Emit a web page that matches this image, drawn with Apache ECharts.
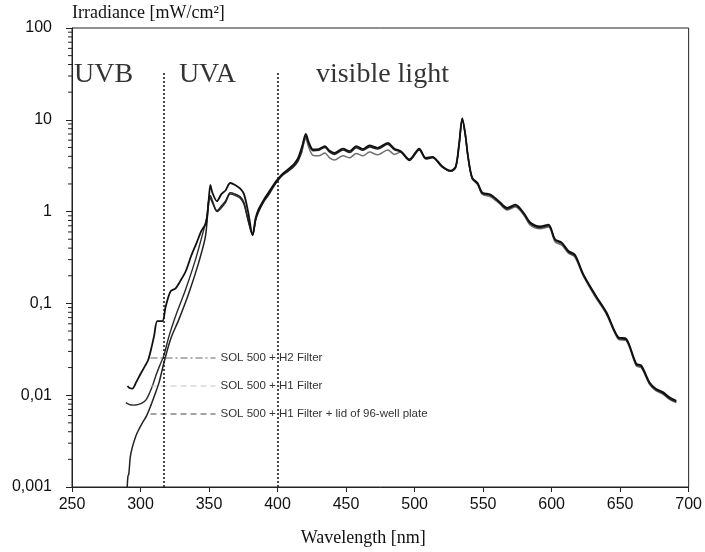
<!DOCTYPE html>
<html>
<head>
<meta charset="utf-8">
<script src="https://cdn.jsdelivr.net/npm/echarts@6/dist/echarts.min.js"></script>
<style>html,body{margin:0;padding:0;background:#fff;}#c{width:705px;height:552px;}</style>
</head>
<body>
<div id="c"></div>
<script>
// ---- data ----
const seriesNames = ['SOL 500 + H2 Filter', 'SOL 500 + H1 Filter', 'SOL 500 + H1 Filter + lid of 96-well plate'];

// UV part (each curve has its own sampling)
const h2UvWl  = [290.5, 292, 294, 297, 300, 303, 305.5, 308, 310, 312.3, 315.9, 318.4, 322, 325.6, 329, 333, 337, 341, 344.5, 347.8, 349.5, 351];
const h2UvIrr = [0.0126, 0.012, 0.0118, 0.014, 0.017, 0.0205, 0.024, 0.033, 0.045, 0.064, 0.064, 0.093, 0.136, 0.146, 0.175, 0.224, 0.33, 0.46, 0.62, 0.75, 1.2, 1.95];
const h1UvWl  = [289.3, 292, 295, 298, 301, 304, 306.5, 309, 311.1, 314, 317, 320.8, 325.6, 332.9, 340.1, 346.2, 348.5, 350.3];
const h1UvIrr = [0.0083, 0.0079, 0.0078, 0.0079, 0.0082, 0.0089, 0.0105, 0.013, 0.0162, 0.021, 0.027, 0.044, 0.073, 0.142, 0.30, 0.64, 0.9, 1.45];
const lidUvWl  = [290.3, 290.8, 291.5, 292.5, 294, 296.6, 299, 301.4, 304.5, 307.5, 310.5, 313.5, 317.1, 322, 328, 335.3, 342.5, 347.4, 349.8, 351];
const lidUvIrr = [0.001, 0.0013, 0.0014, 0.0021, 0.0027, 0.0036, 0.0043, 0.005, 0.006, 0.0077, 0.0102, 0.0137, 0.0226, 0.041, 0.067, 0.13, 0.28, 0.54, 1.3, 1.5];

// UVA / visible part (shared wavelength grid)
const visWl = [352.5, 355.8, 359, 362, 365.5, 369, 372.8, 375.5, 378.5, 381.8,
  384, 386, 390, 393.3, 397, 400.6, 404, 407.8, 412, 415,
  418, 420.6, 423, 426, 430, 434.5, 438, 441.5, 447.8, 452.6,
  457.4, 462.3, 467.1, 473, 480.4, 485.3, 490, 496.2, 503.4, 508.2,
  513, 520.3, 526.4, 530, 532.5, 534.8, 537, 539, 542, 546,
  549.3, 555.4, 561.5, 567.5, 573.5, 579.6, 584.4, 591.7, 597.7, 602.5,
  607.4, 612.5, 617, 623, 631.6, 640, 648.5, 654.6, 661.8, 665.5,
  671.5, 676, 681.2, 686, 691];
const h2VisIrr = [1.6, 1.3, 1.55, 1.7, 2.05, 1.95, 1.78, 1.55, 1.0, 0.56,
  0.85, 1.05, 1.35, 1.6, 1.95, 2.3, 2.6, 2.9, 3.3, 3.85,
  5.2, 7.0, 5.6, 4.75, 4.8, 5.15, 4.6, 4.35, 4.85, 4.55,
  5.15, 4.8, 5.25, 4.95, 5.6, 4.85, 4.55, 3.7, 4.85, 3.85,
  3.95, 3.1, 2.8, 3.1, 5.5, 10.4, 7.0, 4.0, 2.35, 2.05,
  1.62, 1.53, 1.3, 1.1, 1.19, 0.97, 0.76, 0.69, 0.72, 0.5,
  0.46, 0.37, 0.34, 0.21, 0.126, 0.08, 0.043, 0.041, 0.022, 0.021,
  0.0138, 0.0118, 0.0108, 0.0095, 0.0087];
const h1VisIrr = [1.25, 1.0, 1.1, 1.25, 1.55, 1.5, 1.4, 1.2, 0.8, 0.55,
  0.8, 0.98, 1.28, 1.5, 1.85, 2.2, 2.5, 2.75, 3.1, 3.55,
  4.6, 6.2, 4.9, 4.1, 4.05, 4.35, 3.85, 3.65, 4.05, 3.85,
  4.3, 4.05, 4.45, 4.15, 4.7, 4.2, 4.45, 3.65, 4.75, 3.8,
  3.9, 3.05, 2.75, 3.0, 5.3, 10.0, 6.8, 3.9, 2.3, 1.98,
  1.55, 1.45, 1.24, 1.04, 1.12, 0.92, 0.71, 0.65, 0.68, 0.47,
  0.43, 0.35, 0.32, 0.2, 0.119, 0.076, 0.041, 0.039, 0.0208, 0.0199,
  0.0131, 0.0112, 0.0103, 0.009, 0.0083];
const lidVisIrr = [1.3, 1.02, 1.15, 1.3, 1.6, 1.55, 1.45, 1.25, 0.82, 0.56,
  0.82, 1.0, 1.3, 1.55, 1.9, 2.25, 2.55, 2.8, 3.2, 3.7,
  4.9, 6.6, 5.3, 4.6, 4.65, 5.0, 4.45, 4.2, 4.7, 4.4,
  4.95, 4.65, 5.05, 4.8, 5.4, 4.7, 4.45, 3.6, 4.7, 3.75,
  3.85, 3.05, 2.75, 3.05, 5.4, 10.2, 6.9, 3.95, 2.3, 2.0,
  1.58, 1.5, 1.27, 1.07, 1.16, 0.95, 0.74, 0.67, 0.7, 0.49,
  0.45, 0.36, 0.33, 0.205, 0.123, 0.078, 0.042, 0.04, 0.0214, 0.0204,
  0.0134, 0.0115, 0.0105, 0.0092, 0.0085];

// axis ticks
const xTicks = [250, 300, 350, 400, 450, 500, 550, 600, 650, 700];
const yTickLabels = ['0,001', '0,01', '0,1', '1', '10', '100'];
const yMinorTicks = [0.002,0.003,0.004,0.005,0.006,0.007,0.008,0.009,
  0.02,0.03,0.04,0.05,0.06,0.07,0.08,0.09,
  0.2,0.3,0.4,0.5,0.6,0.7,0.8,0.9,
  2,3,4,5,6,7,8,9, 20,30,40,50,60,70,80,90];

// spectral region borders and labels
const regionBorders = [317, 400];
const regionBorderTop = 34;
const regionNames = ['UVB', 'UVA', 'visible light'];
const regionLabelWl = [251.5, 328, 428];
const regionLabelY = [30.8, 30.8, 30.8];

// the H1 curve is drawn grey only in the visible part
const h1GreyFrom = 418;

// ---- build ----
function pairs(wl, v) { return wl.map((w, i) => [w, v[i]]); }
const h2Data = pairs(h2UvWl.concat(visWl), h2UvIrr.concat(h2VisIrr));
const h1Data = pairs(h1UvWl.concat(visWl), h1UvIrr.concat(h1VisIrr));
const lidData = pairs(lidUvWl.concat(visWl), lidUvIrr.concat(lidVisIrr));
const h1DarkData = h1Data.filter(d => d[0] <= h1GreyFrom);
const h1GreyData = h1Data.filter(d => d[0] >= h1GreyFrom);

const chart = echarts.init(document.getElementById('c'), null, {renderer: 'canvas'});
const serif = 'Liberation Serif';
const sans = 'Liberation Sans';
const noSymbol = {opacity: 0, color: 'rgba(0,0,0,0)', borderWidth: 0};

chart.setOption({
  animation: false,
  backgroundColor: '#fff',
  grid: {left: 72, right: 13, top: 28, bottom: 64, show: true, borderColor: '#222', borderWidth: 1, containLabel: false},
  legend: {
    orient: 'vertical', left: 145, top: 347, itemWidth: 65, itemHeight: 14, itemGap: 16,
    textStyle: {fontFamily: sans, fontSize: 11.5, color: '#333'},
    data: [
      {name: seriesNames[0], itemStyle: noSymbol, lineStyle: {type: [7, 3, 2, 3], color: '#666', width: 1}},
      {name: seriesNames[1], itemStyle: noSymbol, lineStyle: {type: [6, 4], color: '#c4c4c4', width: 1}},
      {name: seriesNames[2], itemStyle: noSymbol, lineStyle: {type: [6, 4], color: '#444', width: 1}}
    ],
    selectedMode: false
  },
  xAxis: {
    type: 'value', min: 250, max: 700, interval: 50,
    axisLine: {lineStyle: {color: '#222', width: 1}},
    axisTick: {show: true, length: 5, lineStyle: {color: '#222'}},
    axisLabel: {margin: 10, fontFamily: sans, fontSize: 16, color: '#111',
      formatter: v => (xTicks.indexOf(v) >= 0 ? String(v) : '')},
    splitLine: {show: false},
    name: 'Wavelength [nm]', nameLocation: 'middle', nameGap: 42,
    nameTextStyle: {fontFamily: serif, fontSize: 18, color: '#111', padding: [0, 34, 0, 0]}
  },
  yAxis: {
    type: 'log', logBase: 10, min: 0.001, max: 100,
    axisLine: {show: true, lineStyle: {color: '#222', width: 1}},
    axisTick: {show: true, length: 6, lineStyle: {color: '#222'}},
    axisLabel: {margin: 20, fontFamily: sans, fontSize: 16, color: '#111',
      formatter: v => yTickLabels[Math.round(Math.log10(v)) + 3] || ''},
    splitLine: {show: false},
    name: 'Irradiance [mW/cm²]', nameLocation: 'end', nameGap: 6,
    nameTextStyle: {fontFamily: serif, fontSize: 18, color: '#111', align: 'left', verticalAlign: 'bottom'}
  },
  series: [
    {
      name: seriesNames[1], type: 'line', data: h1DarkData, symbol: 'none', smooth: 0.3,
      lineStyle: {color: '#2a2a2a', width: 1.4}, itemStyle: {color: '#2a2a2a'}, z: 2
    },
    {
      name: 'h1-visible', type: 'line', data: h1GreyData, symbol: 'none', smooth: 0.3,
      lineStyle: {color: '#707070', width: 1.5}, itemStyle: {color: '#707070'}, z: 2
    },
    {
      name: seriesNames[2], type: 'line', data: lidData, symbol: 'none', smooth: 0.3,
      lineStyle: {color: '#222', width: 1.5}, itemStyle: {color: '#222'}, z: 3
    },
    {
      name: seriesNames[0], type: 'line', data: h2Data, symbol: 'none', smooth: 0.3,
      lineStyle: {color: '#111', width: 1.8}, itemStyle: {color: '#111'}, z: 4,
      markLine: {
        silent: true, symbol: ['none', 'none'], label: {show: false},
        lineStyle: {type: [2, 2], color: '#111', width: 1.5},
        data: regionBorders.map(b => [{coord: [b, 0.001]}, {coord: [b, regionBorderTop]}])
      }
    },
    {
      name: 'regions', type: 'scatter', symbolSize: 0, silent: true, z: 5,
      itemStyle: {color: '#000'},
      data: regionNames.map((n, i) => ({name: n, value: [regionLabelWl[i], regionLabelY[i]]})),
      label: {show: true, position: 'right', distance: 0, formatter: p => p.name,
        fontFamily: serif, fontSize: 28, color: '#000'}
    },
    {
      name: 'minorTicks', type: 'custom', silent: true, z: 6,
      data: yMinorTicks.map(v => [250, v]),
      encode: {x: 0, y: 1},
      renderItem: (params, api) => {
        const p = api.coord([api.value(0), api.value(1)]);
        return {type: 'line', shape: {x1: p[0] - 4, y1: p[1], x2: p[0], y2: p[1]},
          style: {stroke: '#222', lineWidth: 1}};
      }
    }
  ]
});
</script>
</body>
</html>
